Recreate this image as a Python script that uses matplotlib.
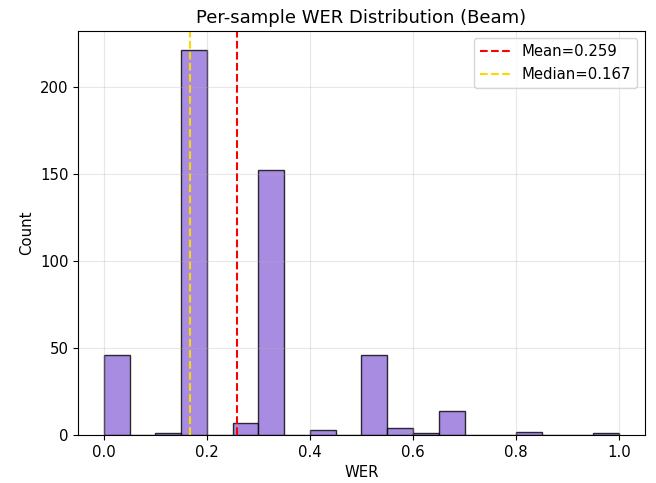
import numpy as np
import matplotlib
matplotlib.use("Agg")
import matplotlib.pyplot as plt

plt.rcParams['font.size'] = 10.7

bin_edges = np.linspace(0.0, 1.0, 21)
counts = [46, 0, 1, 221, 0, 7, 152, 0, 3, 0, 46, 4, 1, 14, 0, 0, 2, 0, 0, 1]
mean_wer = 0.259
median_wer = 0.167

fig, ax = plt.subplots(figsize=(6.56, 4.83), dpi=100)
fig.subplots_adjust(left=0.119, right=0.983, top=0.936, bottom=0.099)

ax.hist(bin_edges[:-1], bins=bin_edges, weights=counts, color='mediumpurple',
        edgecolor='black', alpha=0.8)
ax.axvline(mean_wer, color='red', linestyle='--', linewidth=1.5, label=f'Mean={mean_wer:.3f}')
ax.axvline(median_wer, color='gold', linestyle='--', linewidth=1.5, label=f'Median={median_wer:.3f}')
ax.set_xlabel('WER')
ax.set_ylabel('Count')
ax.set_title('Per-sample WER Distribution (Beam)', fontsize=13)
ax.legend()
ax.grid(alpha=0.3)

fig.savefig('out.png', dpi=100)
